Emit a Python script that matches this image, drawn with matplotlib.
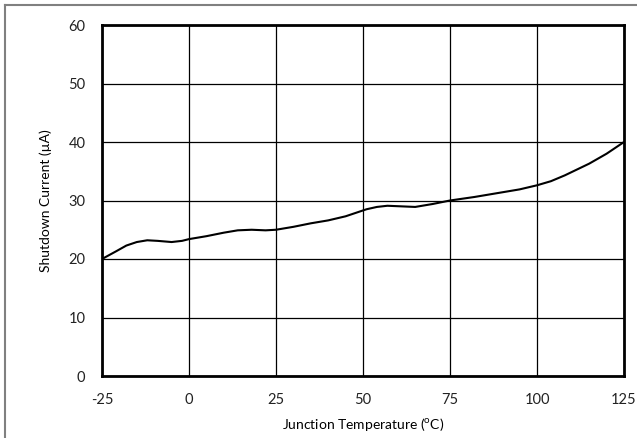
import matplotlib
matplotlib.use("Agg")
import matplotlib.pyplot as plt
from matplotlib.lines import Line2D

# values
temp_c = [-25, -21, -18, -15, -12, -9, -5, -2, 0, 5, 10, 14, 18, 22, 25, 30, 35, 40, 45,
          48, 51, 54, 57, 61, 65, 70, 75, 82, 88, 95, 100, 104, 108, 115, 120, 125]
current_ua = [20.0, 21.3, 22.3, 22.9, 23.2, 23.1, 22.9, 23.1, 23.4, 23.9, 24.5, 24.9, 25.0,
              24.9, 25.0, 25.5, 26.1, 26.6, 27.3, 27.9, 28.5, 28.9, 29.1, 29.0, 28.9, 29.4,
              30.0, 30.6, 31.2, 31.9, 32.6, 33.3, 34.3, 36.3, 38.0, 40.0]
x_ticks = [-25, 0, 25, 50, 75, 100, 125]
y_ticks = [0, 10, 20, 30, 40, 50, 60]

plt.rcParams['font.family'] = ['Lato', 'DejaVu Sans']
plt.rcParams['mathtext.fontset'] = 'custom'
plt.rcParams['mathtext.rm'] = 'Lato'

fig = plt.figure(figsize=(6.37, 4.38), dpi=100)
ax = fig.add_axes([102 / 637, 62 / 438, 522 / 637, 351 / 438])

ax.plot(temp_c, current_ua, color='black', linewidth=1.5)

ax.set_xlim(-25, 125)
ax.set_ylim(0, 60)
ax.set_xticks(x_ticks)
ax.set_yticks(y_ticks)
ax.set_xticklabels([str(t) for t in x_ticks])
ax.set_yticklabels([str(t) for t in y_ticks])
ax.tick_params(length=0, labelsize=10.5, pad=12, colors='#222222')
ax.grid(True, color='black', linewidth=0.9)
for s in ax.spines.values():
    s.set_linewidth(2)
    s.set_color('black')

ax.set_xlabel('Junction Temperature ($^{\\rm o}$C)', fontsize=10, labelpad=7)
ax.set_ylabel('Shutdown Current (\u00b5A)', fontsize=10, labelpad=12)

# outer frame (gray) at top and left edge
fig.add_artist(Line2D([5 / 637, 1], [1 - 5 / 438, 1 - 5 / 438], color='#808080', linewidth=1.5,
                      transform=fig.transFigure))
fig.add_artist(Line2D([5 / 637, 5 / 637], [0, 1 - 5 / 438], color='#808080', linewidth=1.5,
                      transform=fig.transFigure))

fig.savefig('out.png', dpi=100)
